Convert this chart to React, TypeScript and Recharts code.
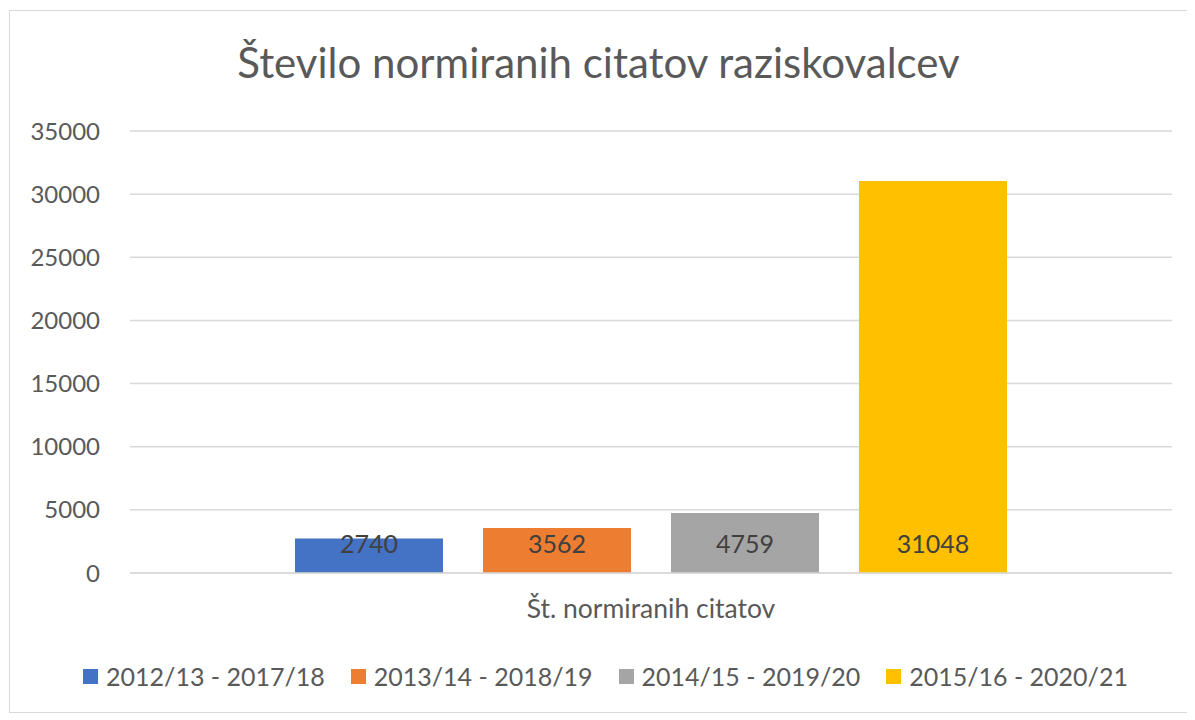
import { BarChart, Bar, XAxis, YAxis, CartesianGrid, Legend, LabelList } from 'recharts'

const categories = ['Št. normiranih citatov']
const seriesNames = ['2012/13 - 2017/18', '2013/14 - 2018/19', '2014/15 - 2019/20', '2015/16 - 2020/21']
const seriesValues = [2740, 3562, 4759, 31048]
const seriesColors = ['#4472c4', '#ed7d31', '#a5a5a5', '#ffc000']
const yTicks = [0, 5000, 10000, 15000, 20000, 25000, 30000, 35000]

const FONT = 'Lato, "Open Sans", sans-serif'
const TEXT = '#595959'

// one row, one key per series
const chartData = categories.map((name) => {
  const row: Record<string, string | number> = { name }
  seriesNames.forEach((s, i) => {
    row[s] = seriesValues[i]
  })
  return row
})

// Excel "inside base" style label: fixed distance above the baseline
const BaseLabel = (props: any) => {
  const { x, y, width, height, value } = props
  return (
    <text
      x={x + width / 2}
      y={y + height - 30}
      textAnchor="middle"
      dominantBaseline="central"
      fill="#404040"
      fontSize={25}
      fontFamily={FONT}
    >
      {value}
    </text>
  )
}

const LegendContent = () => (
  <div
    style={{
      display: 'flex',
      justifyContent: 'center',
      fontFamily: FONT,
      fontSize: 25,
      lineHeight: '30px',
      color: TEXT,
      paddingTop: 32,
      paddingLeft: 29,
    }}
  >
    {seriesNames.map((s, i) => (
      <div key={s} style={{ display: 'flex', alignItems: 'center', marginRight: i < seriesNames.length - 1 ? 26 : 0 }}>
        <span style={{ width: 15, height: 15, background: seriesColors[i], marginRight: 8, display: 'inline-block' }} />
        <span>{s}</span>
      </div>
    ))}
  </div>
)

export default function App() {
  return (
    <div
      style={{
        position: 'relative',
        width: 1177,
        height: 701,
        border: '1px solid #d9d9d9',
        marginLeft: 1,
        marginTop: 2,
        background: '#fff',
      }}
    >
      <div
        style={{
          position: 'absolute',
          top: 26,
          left: 0,
          width: '100%',
          textAlign: 'center',
          fontFamily: FONT,
          fontSize: 42,
          color: TEXT,
        }}
      >
        Število normiranih citatov raziskovalcev
      </div>
      <BarChart
        width={1177}
        height={701}
        data={chartData}
        margin={{ top: 120, right: 15, left: 0, bottom: 0 }}
        barGap={40}
        barSize={148}
      >
        <CartesianGrid vertical={false} stroke="#d9d9d9" strokeWidth={1.5} />
        <XAxis
          dataKey="name"
          height={56}
          axisLine={{ stroke: '#d9d9d9', strokeWidth: 1.5 }}
          tickLine={false}
          tick={{ fontSize: 26.5, fill: TEXT, fontFamily: FONT }}
          tickMargin={20}
        />
        <YAxis
          width={120}
          domain={[0, 35000]}
          ticks={yTicks}
          axisLine={false}
          tickLine={false}
          tick={{ fontSize: 24, fill: TEXT, fontFamily: FONT }}
          tickMargin={24}
        />
        <Legend verticalAlign="bottom" height={83} content={<LegendContent />} />
        {seriesNames.map((s, i) => (
          <Bar key={s} dataKey={s} fill={seriesColors[i]} isAnimationActive={false}>
            <LabelList dataKey={s} content={<BaseLabel />} />
          </Bar>
        ))}
      </BarChart>
    </div>
  )
}
